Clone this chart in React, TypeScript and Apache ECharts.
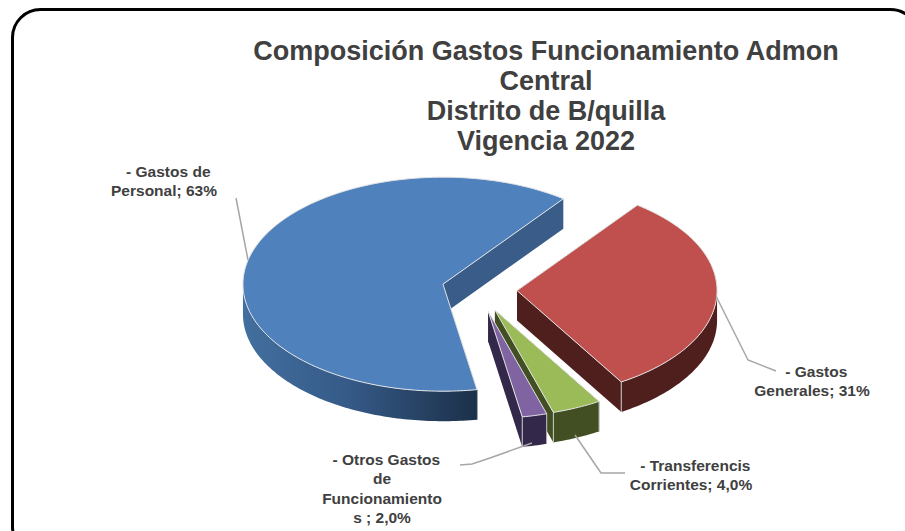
import React, { useEffect, useRef } from "react";
import * as echarts from "echarts";

const TITLE_LINES = [
  "Composición Gastos Funcionamiento Admon",
  "Central",
  "Distrito de B/quilla",
  "Vigencia 2022",
];
const CATEGORIES = ["Gastos de Personal", "Gastos Generales", "Transferencis Corrientes", "Otros Gastos de Funcionamientos"];
const VALUES = [63, 31, 4, 2];
const LABELS = [
  "\u00a0\u00a0- Gastos de\nPersonal; 63%",
  "\u00a0\u00a0- Gastos\nGenerales; 31%",
  "\u00a0\u00a0- Transferencis\nCorrientes; 4,0%",
  "\u00a0\u00a0- Otros Gastos\nde\nFuncionamiento\ns ; 2,0%",
];
const TOP_COLORS = ["#4f81bd", "#c0504d", "#9bbb59", "#8064a2"];
const WALL_COLORS = ["#3a5c88", "#4f1f1e", "#414f22", "#33284a"];
const LABEL_ANCHORS = [
  [164, 162],
  [812, 362],
  [691, 456],
  [382, 450],
];
const LEADERS = [
  [[236, 198], [248, 260]],
  [[716, 296], [748, 360], [776, 371]],
  [[575, 435], [601, 473], [625, 473]],
  [[532, 443], [490, 458], [472, 464], [460, 465]],
];

const START_DEG = 279.8;
const CX = 479.5;
const CY = 289.5;
const RX = 200;
const RY = 107;
const DEPTH = 30;
const EXPLODE = 37.6;
const EXPLODE_Y = 0.6;
const TEXT = "#404040";
const FONT = '"Liberation Sans", Arial, sans-serif';

const TOTAL = VALUES.reduce((a, b) => a + b, 0);

function renderItem(params: any, api: any) {
  const i = params.dataIndex;
  const before = VALUES.slice(0, i).reduce((a, b) => a + b, 0);
  const value = api.value(0);
  const a0 = START_DEG - (before / TOTAL) * 360;
  const a1 = a0 - (value / TOTAL) * 360;
  const mid = ((a0 + a1) / 2) * (Math.PI / 180);
  const ox = CX + EXPLODE * Math.cos(mid);
  const oy = CY - EXPLODE * EXPLODE_Y * Math.sin(mid);
  const rim = (deg: number, d = 0) => {
    const r = (deg * Math.PI) / 180;
    return [ox + RX * Math.cos(r), oy - RY * Math.sin(r) + d];
  };
  const topPts: number[][] = [[ox, oy]];
  const n = Math.ceil(a0 - a1);
  for (let k = 0; k <= n; k++) topPts.push(rim(a0 - ((a0 - a1) * k) / n));

  const children: any[] = [];
  const face = (deg: number) => ({
    type: "polygon",
    shape: { points: [[ox, oy], rim(deg), rim(deg, DEPTH), [ox, oy + DEPTH]] },
    style: { fill: WALL_COLORS[i], stroke: "none" },
  });
  children.push(face(a0), face(a1));

  // outer rim: only the part on the lower half of the ellipse shows
  const wallRanges: number[][] = [];
  for (let c = -720; c <= 720; c += 360) {
    const hi = Math.min(a0, c);
    const lo = Math.max(a1, c - 180);
    if (hi > lo) wallRanges.push([hi, lo]);
  }
  wallRanges.forEach(([hi, lo]) => {
    const upper: number[][] = [];
    const lower: number[][] = [];
    const m = Math.ceil(hi - lo);
    for (let k = 0; k <= m; k++) {
      const t = hi - ((hi - lo) * k) / m;
      upper.push(rim(t));
      lower.unshift(rim(t, DEPTH));
    }
    children.push({
      type: "polygon",
      shape: { points: upper.concat(lower) },
      style: {
        fill:
          i === 0
            ? {
                type: "linear",
                x: 0,
                y: 0,
                x2: 1,
                y2: 0,
                colorStops: [
                  { offset: 0, color: "#426f9f" },
                  { offset: 0.45, color: "#355a87" },
                  { offset: 1, color: "#1c3049" },
                ],
              }
            : WALL_COLORS[i],
        stroke: "none",
      },
    });
  });

  [a0, a1].forEach((deg) => {
    if (Math.sin((deg * Math.PI) / 180) < 0) {
      const upper = rim(deg);
      const lower = rim(deg, DEPTH);
      if (i > 0 || deg === a0) {
        children.push({
          type: "line",
          shape: { x1: upper[0], y1: upper[1], x2: lower[0], y2: lower[1] },
          style: { stroke: i === 0 ? "#2a4666" : "#c9c9c9", lineWidth: 1 },
        });
      }
    }
  });

  children.push({
    type: "polygon",
    shape: { points: topPts },
    style: { fill: TOP_COLORS[i], stroke: "#e4e4e4", lineWidth: 1, lineJoin: "round" },
  });

  children.push({
    type: "polyline",
    shape: { points: LEADERS[i] },
    style: { stroke: "#a6a6a6", lineWidth: 1.5, fill: "none" },
  });
  children.push({
    type: "text",
    x: LABEL_ANCHORS[i][0],
    y: LABEL_ANCHORS[i][1],
    style: {
      text: LABELS[i],
      fill: TEXT,
      fontFamily: FONT,
      fontWeight: "bold",
      fontSize: 15.5,
      lineHeight: 19.2,
      align: "center",
      verticalAlign: "top",
    },
  });
  return { type: "group", children };
}

export default function App() {
  const ref = useRef<HTMLDivElement>(null);
  useEffect(() => {
    document.body.style.margin = "0";
    const chart = echarts.init(ref.current!, undefined, { renderer: "svg" });
    chart.setOption({
      animation: false,
      backgroundColor: "#ffffff",
      title: {
        text: TITLE_LINES.join("\n"),
        left: 541,
        top: 31,
        textAlign: "center",
        textStyle: {
          color: TEXT,
          fontFamily: FONT,
          fontWeight: "bold",
          fontSize: 27,
          lineHeight: 30,
        },
      },
      graphic: [
        {
          type: "rect",
          z: 0,
          shape: { x: 12.5, y: 9.5, width: 906, height: 545, r: 28 },
          style: { fill: "#ffffff", stroke: "#000000", lineWidth: 3 },
        },
      ],
      series: [
        {
          type: "custom",
          coordinateSystem: "none",
          name: "Composición",
          renderItem,
          silent: true,
          z: 2,
          data: VALUES.map((v, i) => ({ name: CATEGORIES[i], value: [v] })),
        },
      ],
    });
    return () => chart.dispose();
  }, []);
  return <div ref={ref} style={{ width: 905, height: 531 }} />;
}
